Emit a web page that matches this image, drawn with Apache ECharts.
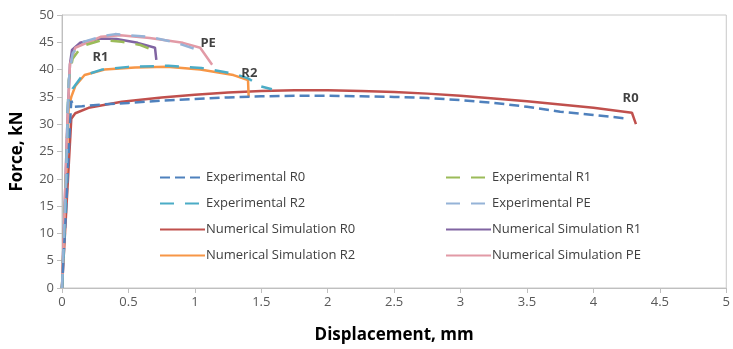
<!DOCTYPE html>
<html><head><meta charset="utf-8">
<script src="https://cdn.jsdelivr.net/npm/echarts@6/dist/echarts.min.js"></script>
<style>html,body{margin:0;padding:0;background:#fff}#c{width:733px;height:349px}</style>
</head><body><div id="c"></div>
<script>
const xTicks = [0,0.5,1,1.5,2,2.5,3,3.5,4,4.5,5];
const yTicks = [0,5,10,15,20,25,30,35,40,45,50];
const names = ['Experimental R0','Experimental R1','Experimental R2','Experimental PE',
  'Numerical Simulation R0','Numerical Simulation R1','Numerical Simulation R2','Numerical Simulation PE'];

const expR0 = [[0,0],[0.03,14],[0.06,30],[0.07,34.3],[0.09,33.2],[0.15,33.3],[0.3,33.6],[0.5,33.9],[0.75,34.3],[1,34.6],[1.25,34.9],[1.5,35.1],[1.75,35.2],[2,35.2],[2.25,35.1],[2.5,35.0],[2.75,34.8],[3,34.4],[3.25,33.9],[3.5,33.2],[3.75,32.3],[4,31.7],[4.23,31.1]];
const expR1 = [[0,0],[0.03,20],[0.05,38],[0.08,42],[0.15,44.3],[0.3,45.4],[0.45,45.1],[0.59,44.5],[0.69,43.5]];
const expR2 = [[0,0],[0.03,17],[0.045,34],[0.08,36.5],[0.15,38.8],[0.3,40],[0.5,40.5],[0.8,40.7],[1.05,40.3],[1.3,39.2],[1.4,38.4],[1.5,36.9],[1.58,36.4]];
const expPE = [[0,0],[0.03,20],[0.05,38],[0.08,43],[0.15,45],[0.3,46.1],[0.4,46.5],[0.66,46],[0.85,45],[1.0,43.8]];
const numR0 = [[0,0],[0.07,31],[0.1,32],[0.2,33],[0.45,34.1],[0.75,34.9],[1,35.4],[1.25,35.8],[1.5,36.1],[1.75,36.2],[2,36.2],[2.25,36.1],[2.5,35.9],[2.75,35.6],[3,35.2],[3.25,34.7],[3.5,34.2],[3.75,33.6],[4,33],[4.29,32.1],[4.32,30]];
const numR1 = [[0,0],[0.04,30],[0.06,41],[0.075,43.6],[0.135,44.9],[0.29,45.7],[0.41,45.6],[0.57,44.9],[0.7,44],[0.71,41.8]];
const numR2 = [[0,0],[0.05,33],[0.07,35],[0.1,37],[0.17,39],[0.32,40],[0.55,40.4],[0.79,40.5],[1.04,40],[1.29,39],[1.4,38.1],[1.405,35]];
const numPE = [[0,0],[0.04,30],[0.06,41],[0.1,44],[0.29,46],[0.44,46.3],[0.66,45.8],[0.91,44.9],[1.04,44],[1.13,40.9]];

const labelPts = [['R1',[0.29,42.3]],['PE',[1.1,44.9]],['R2',[1.41,39.4]],['R0',[4.28,34.7]]];

const datasets = [expR0,expR1,expR2,expPE,numR0,numR1,numR2,numPE];
const colors = ['#4f81bd','#9bbb59','#4bacc6','#95b3d7','#c0504d','#8064a2','#f79646','#e29aa6'];
const dashes = [[10,5],[14,11],[14,11],[14,11],'solid','solid','solid','solid'];

const series = datasets.map((d,i)=>({
  name: names[i], type:'line', data:d, symbol:'none', smooth:false,
  lineStyle:{color:colors[i], width:2.5, type:dashes[i]},
  itemStyle:{color:colors[i]}, z: i<4 ? 3 : 2
}));
series.push({
  type:'scatter', data: labelPts.map(p=>({value:p[1], name:p[0]})), symbolSize:0,
  label:{show:true, formatter:'{b}', position:'inside', color:'#111', fontWeight:'bold', fontSize:13, fontFamily:'Open Sans'},
  silent:true, z:5
});

const legendText = {fontSize:13,color:'#404040',fontFamily:'Open Sans',padding:[0,0,0,-4]};
const legendItem = {color:'rgba(0,0,0,0)',borderColor:'rgba(0,0,0,0)',borderWidth:0};
const chart = echarts.init(document.getElementById('c'));
chart.setOption({
  animation:false,
  textStyle:{fontFamily:'Open Sans'},
  grid:{left:62,right:6,top:15,bottom:60,show:true,borderColor:'#c8c8c8',borderWidth:1},
  xAxis:{type:'value',min:0,max:5,interval:0.5,
    name:'Displacement, mm',nameLocation:'middle',nameGap:39,
    nameTextStyle:{fontWeight:'bold',fontSize:17,color:'#000'},
    axisLine:{show:true,lineStyle:{color:'#bfbfbf'}},
    axisTick:{show:true,length:5,lineStyle:{color:'#bfbfbf'}},
    axisLabel:{color:'#595959',fontSize:13,formatter:v=>String(v)},
    splitLine:{show:false}},
  yAxis:{type:'value',min:0,max:50,interval:5,
    name:'Force, kN',nameLocation:'middle',nameGap:36,
    nameTextStyle:{fontWeight:'bold',fontSize:17,color:'#000'},
    axisLine:{show:true,lineStyle:{color:'#bfbfbf'}},
    axisTick:{show:true,length:5,lineStyle:{color:'#bfbfbf'}},
    axisLabel:{color:'#595959',fontSize:13},
    splitLine:{show:false}},
  legend:[
    {data:names.filter((n,i)=>i%2===0),orient:'vertical',left:154,top:166,itemWidth:45,itemHeight:10,itemGap:13,
     itemStyle:legendItem,textStyle:legendText,selectedMode:false},
    {data:names.filter((n,i)=>i%2===1),orient:'vertical',left:440,top:166,itemWidth:45,itemHeight:10,itemGap:13,
     itemStyle:legendItem,textStyle:legendText,selectedMode:false}
  ],
  series
});
</script></body></html>
